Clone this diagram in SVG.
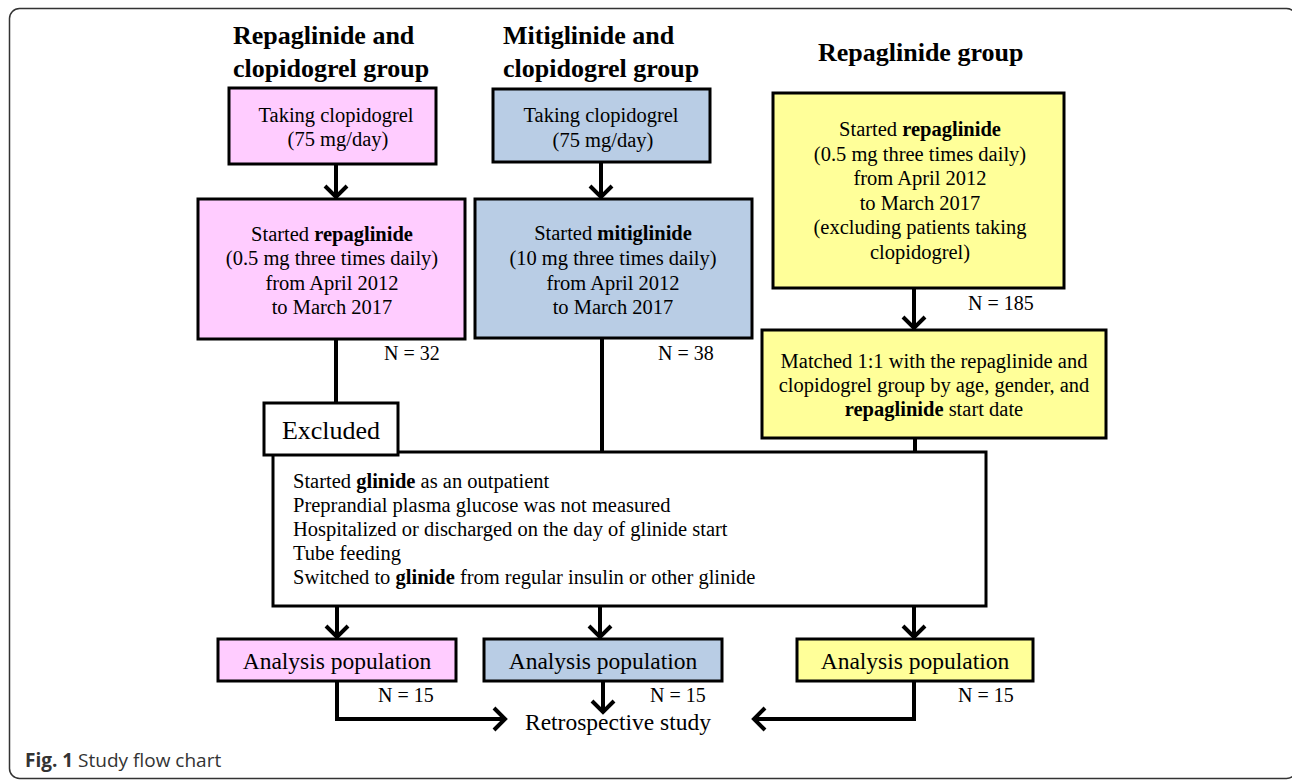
<svg xmlns="http://www.w3.org/2000/svg" width="1292" height="780" viewBox="0 0 1292 780">
<defs>
<style>
.t{font-family:"Liberation Serif","Times New Roman",serif;fill:#000}
.title{font-size:26px;font-weight:bold}
.bx{font-size:20.5px;text-anchor:middle}
.ex{font-size:20.5px}
.n{font-size:20px}
.big{font-size:23.5px;text-anchor:middle}
.box{stroke:#000;stroke-width:3}
.pink{fill:#FFCCFF}
.blue{fill:#B9CDE5}
.yel{fill:#FFFF99}
.wht{fill:#fff}
.ln{fill:none;stroke:#000;stroke-width:4}
.cap{font-family:"Open Sans","Liberation Sans",sans-serif;font-size:19px;fill:#333}
</style>
<marker id="ah" markerUnits="userSpaceOnUse" markerWidth="30" markerHeight="30" viewBox="-15 -15 30 30" refX="0" refY="0" orient="auto">
<path d="M-12,-11 L-1,0 L-12,11" fill="none" stroke="#000" stroke-width="4" stroke-linejoin="miter"/>
</marker>
</defs>
<rect x="9.5" y="8.5" width="1287" height="770" rx="10" fill="#fff" stroke="#333" stroke-width="1.5"/>

<g id="titles">
<text class="t title" x="233" y="44">Repaglinide and</text>
<text class="t title" x="233" y="77">clopidogrel group</text>
<text class="t title" x="503" y="44">Mitiglinide and</text>
<text class="t title" x="503" y="77">clopidogrel group</text>
<text class="t title" x="818" y="61">Repaglinide group</text>
</g>

<g id="connectors">
<line class="ln" x1="336" y1="164" x2="336" y2="198" marker-end="url(#ah)"/>
<line class="ln" x1="336" y1="339" x2="336" y2="404"/>
<line class="ln" x1="601" y1="162" x2="601" y2="198" marker-end="url(#ah)"/>
<line class="ln" x1="602" y1="338" x2="602" y2="452"/>
<line class="ln" x1="914" y1="288" x2="914" y2="329" marker-end="url(#ah)"/>
<line class="ln" x1="915" y1="438" x2="915" y2="452"/>
<line class="ln" x1="337" y1="606" x2="337" y2="638" marker-end="url(#ah)"/>
<line class="ln" x1="600" y1="606" x2="600" y2="638" marker-end="url(#ah)"/>
<line class="ln" x1="914" y1="606" x2="914" y2="638" marker-end="url(#ah)"/>
<polyline class="ln" points="337,681 337,719 506,719" marker-end="url(#ah)"/>
<line class="ln" x1="603" y1="681" x2="603" y2="713" marker-end="url(#ah)"/>
<polyline class="ln" points="914,681 914,719 753,719" marker-end="url(#ah)"/>
</g>

<g id="n-pink1">
<rect class="box pink" x="229" y="88" width="207" height="76"/>
<text class="t bx" x="336" y="122">Taking clopidogrel</text>
<text class="t bx" x="338" y="146">(75 mg/day)</text>
</g>
<g id="n-pink2">
<rect class="box pink" x="198" y="199" width="267" height="140"/>
<text class="t bx" x="332" y="241">Started <tspan font-weight="bold">repaglinide</tspan></text>
<text class="t bx" x="332" y="265">(0.5 mg three times daily)</text>
<text class="t bx" x="332" y="290">from April 2012</text>
<text class="t bx" x="332" y="314">to March 2017</text>
<text class="t n" x="384" y="360">N = 32</text>
</g>

<g id="n-blue1">
<rect class="box blue" x="493" y="89" width="217" height="73"/>
<text class="t bx" x="601" y="122">Taking clopidogrel</text>
<text class="t bx" x="603" y="147">(75 mg/day)</text>
</g>
<g id="n-blue2">
<rect class="box blue" x="475" y="199" width="277" height="139"/>
<text class="t bx" x="613" y="240">Started <tspan font-weight="bold">mitiglinide</tspan></text>
<text class="t bx" x="613" y="265">(10 mg three times daily)</text>
<text class="t bx" x="613" y="290">from April 2012</text>
<text class="t bx" x="613" y="314">to March 2017</text>
<text class="t n" x="658" y="360">N = 38</text>
</g>

<g id="n-yel1">
<rect class="box yel" x="773" y="93" width="291" height="195"/>
<text class="t bx" x="920" y="136">Started <tspan font-weight="bold">repaglinide</tspan></text>
<text class="t bx" x="920" y="160.5">(0.5 mg three times daily)</text>
<text class="t bx" x="920" y="185">from April 2012</text>
<text class="t bx" x="920" y="209.5">to March 2017</text>
<text class="t bx" x="920" y="234">(excluding patients taking</text>
<text class="t bx" x="920" y="258.5">clopidogrel)</text>
<text class="t n" x="968" y="310">N = 185</text>
</g>
<g id="n-yel2">
<rect class="box yel" x="762" y="330" width="344" height="108"/>
<text class="t bx" x="934" y="368">Matched 1:1 with the repaglinide and</text>
<text class="t bx" x="934" y="392">clopidogrel group by age, gender, and</text>
<text class="t bx" x="934" y="416"><tspan font-weight="bold">repaglinide</tspan> start date</text>
</g>

<g id="n-exclusion">
<rect class="box wht" x="273" y="452" width="713" height="154"/>
<text class="t ex" x="293" y="488">Started <tspan font-weight="bold">glinide</tspan> as an outpatient</text>
<text class="t ex" x="293" y="512">Preprandial plasma glucose was not measured</text>
<text class="t ex" x="293" y="536">Hospitalized or discharged on the day of glinide start</text>
<text class="t ex" x="293" y="560">Tube feeding</text>
<text class="t ex" x="293" y="584">Switched to <tspan font-weight="bold">glinide</tspan> from regular insulin or other glinide</text>
</g>
<g id="n-excluded">
<rect class="box wht" x="264" y="403" width="134" height="52"/>
<text class="t" x="331" y="439" font-size="26" text-anchor="middle">Excluded</text>
</g>

<g id="n-ap-pink">
<rect class="box pink" x="218" y="639" width="238" height="42"/>
<text class="t big" x="337" y="669">Analysis population</text>
<text class="t n" x="378" y="702">N = 15</text>
</g>
<g id="n-ap-blue">
<rect class="box blue" x="484" y="639" width="238" height="42"/>
<text class="t big" x="603" y="669">Analysis population</text>
<text class="t n" x="650" y="702">N = 15</text>
</g>
<g id="n-ap-yel">
<rect class="box yel" x="797" y="639" width="236" height="42"/>
<text class="t big" x="915" y="669">Analysis population</text>
<text class="t n" x="958" y="702">N = 15</text>
</g>
<g id="n-retro">
<text class="t big" x="618" y="730">Retrospective study</text>
</g>

<text class="cap" x="25" y="767"><tspan font-weight="bold">Fig. 1</tspan> Study flow chart</text>
</svg>
